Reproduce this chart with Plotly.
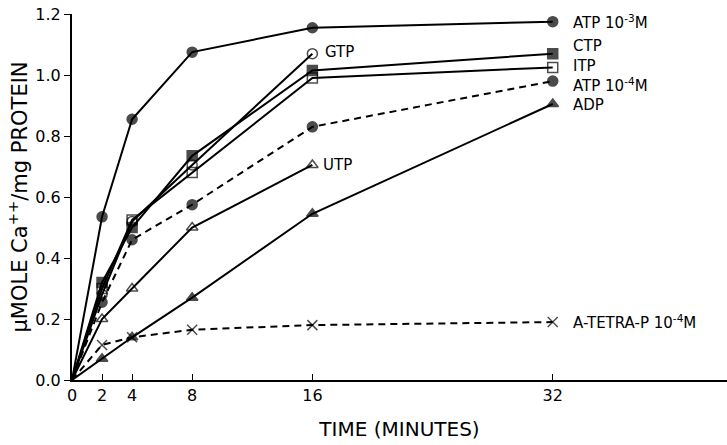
import plotly.graph_objects as go

time = [0, 2, 4, 8, 16, 32]
time16 = [0, 2, 4, 8, 16]

atp3 = [0, 0.535, 0.855, 1.075, 1.155, 1.175]
gtp = [0, 0.28, 0.52, 0.705, 1.07]
ctp = [0, 0.32, 0.50, 0.735, 1.015, 1.07]
itp = [0, 0.30, 0.525, 0.68, 0.99, 1.025]
atp4 = [0, 0.255, 0.46, 0.575, 0.83, 0.98]
utp = [0, 0.20, 0.30, 0.50, 0.705]
adp = [0, 0.07, 0.14, 0.27, 0.545, 0.905]
tetra = [0, 0.115, 0.14, 0.165, 0.18, 0.19]

series = [
    ("ATP 10<sup>-3</sup>M", time, atp3, "circle", "solid"),
    ("GTP", time16, gtp, "circle-open", "solid"),
    ("CTP", time, ctp, "square", "solid"),
    ("ITP", time, itp, "square-open", "solid"),
    ("ATP 10<sup>-4</sup>M", time, atp4, "circle", "7px,5px"),
    ("UTP", time16, utp, "triangle-up-open", "solid"),
    ("ADP", time, adp, "triangle-up", "solid"),
    ("A-TETRA-P 10<sup>-4</sup>M", time, tetra, "x-thin-open", "7px,5px"),
]

label_pos = {
    "ATP 10<sup>-3</sup>M": (33.2, 1.175),
    "GTP": (16.7, 1.075),
    "CTP": (33.2, 1.095),
    "ITP": (33.2, 1.030),
    "ATP 10<sup>-4</sup>M": (33.2, 0.968),
    "UTP": (16.6, 0.705),
    "ADP": (33.2, 0.902),
    "A-TETRA-P 10<sup>-4</sup>M": (33.2, 0.19),
}

fig = go.Figure()
for name, xs, ys, sym, dash in series:
    sizes = [0] + [10] * (len(xs) - 1)
    fig.add_trace(go.Scatter(
        x=xs, y=ys, mode="lines+markers", name=name,
        line=dict(color="black", width=2, dash=dash),
        marker=dict(symbol=sym, size=sizes, color="black",
                    line=dict(color="black", width=1.5)),
        showlegend=False,
    ))
    lx, ly = label_pos[name]
    fig.add_annotation(x=lx, y=ly, xref="x", yref="y", text=name,
                       showarrow=False, xanchor="left", yanchor="middle",
                       font=dict(size=15, color="black"))

fig.update_layout(
    width=727, height=445,
    margin=dict(l=72, r=0, t=14, b=65),
    plot_bgcolor="white", paper_bgcolor="white",
    font=dict(family="DejaVu Sans, Liberation Sans, sans-serif", size=16, color="black"),
)
fig.update_xaxes(
    range=[0, 43.6], tickvals=[0, 2, 4, 8, 16, 32], ticktext=["0", "2", "4", "8", "16", "32"],
    ticks="inside", ticklen=6, tickwidth=1.2, tickcolor="black",
    showline=True, linecolor="black", linewidth=2, showgrid=False, zeroline=False,
    tickfont=dict(size=16),
    title=dict(text="TIME (MINUTES)", font=dict(size=20), standoff=18),
)
fig.update_yaxes(
    range=[0, 1.2], tickvals=[0, 0.2, 0.4, 0.6, 0.8, 1.0, 1.2],
    ticktext=["0.0", "0.2", "0.4", "0.6", "0.8", "1.0", "1.2"],
    ticks="outside", ticklen=6, tickwidth=1.2, tickcolor="black",
    showline=True, linecolor="black", linewidth=2, showgrid=False, zeroline=False,
    tickfont=dict(size=16),
    title=dict(text="μMOLE Ca<sup>++</sup>/mg PROTEIN", font=dict(size=21), standoff=2),
)
fig.write_html("out.html")
